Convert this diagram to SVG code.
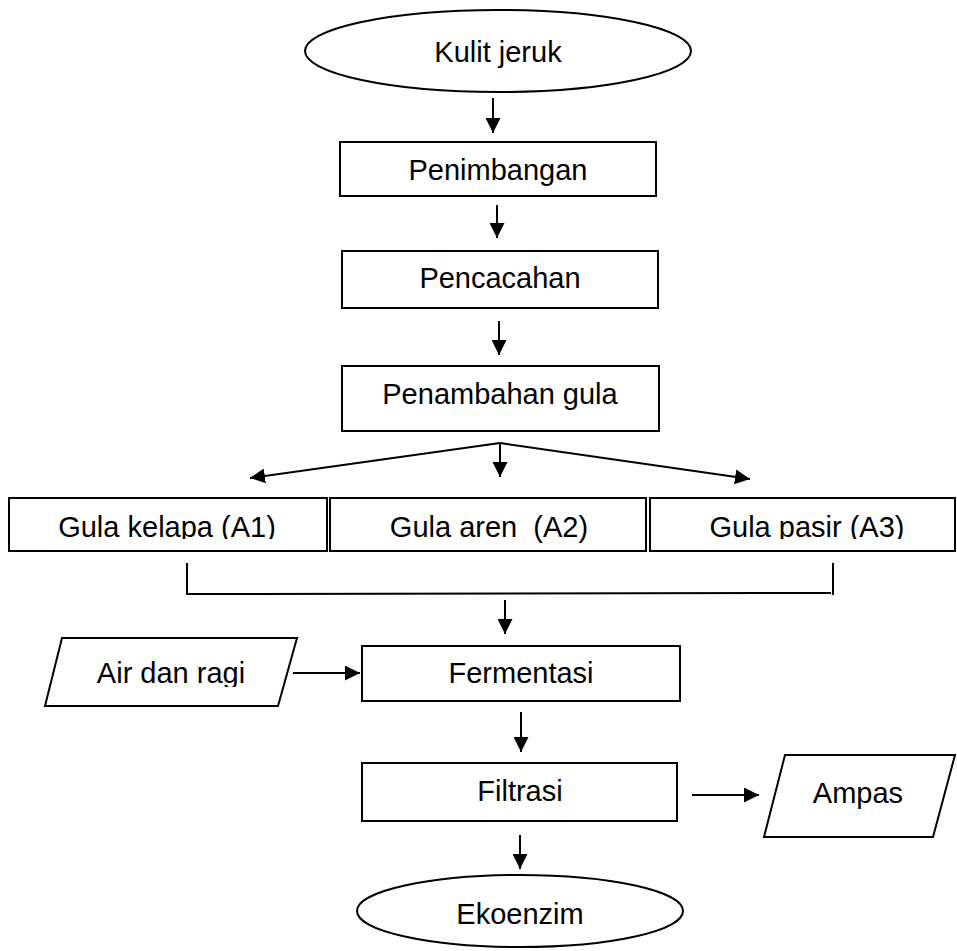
<svg xmlns="http://www.w3.org/2000/svg" width="957" height="951" viewBox="0 0 957 951">
<style>
.s{fill:#fff;stroke:#000;stroke-width:2}
.t{font-family:"Liberation Sans",Arial,sans-serif;font-size:29px;fill:#000;text-anchor:middle}
.c{fill:none;stroke:#000;stroke-width:2}
.a{fill:none;stroke:#000;stroke-width:2;marker-end:url(#ah)}
</style>
<defs>
<marker id="ah" viewBox="0 0 15 15" refX="15" refY="7.5" markerWidth="15" markerHeight="15" markerUnits="userSpaceOnUse" orient="auto">
<path d="M0,0 L15,7.5 L0,15 z" fill="#000"/>
</marker>
<clipPath id="clipAir"><rect x="40" y="630" width="260" height="57"/></clipPath>
<clipPath id="clipGula"><rect x="0" y="495" width="957" height="44"/></clipPath>
</defs>
<rect width="957" height="951" fill="#fff"/>
<g id="kulit"><ellipse class="s" cx="498" cy="51" rx="193" ry="41"/><text class="t" x="498" y="62">Kulit jeruk</text></g>
<g id="penimbangan"><rect class="s" x="340" y="142" width="316" height="54"/><text class="t" x="498" y="180">Penimbangan</text></g>
<g id="pencacahan"><rect class="s" x="342" y="251" width="316" height="57"/><text class="t" x="500" y="288">Pencacahan</text></g>
<g id="penambahan"><rect class="s" x="342" y="366" width="317" height="65"/><text class="t" x="500" y="404">Penambahan gula</text></g>
<g id="a1"><rect class="s" x="9" y="498" width="318" height="53"/><text class="t" x="167" y="537" clip-path="url(#clipGula)">Gula kelapa (A1)</text></g>
<g id="a2"><rect class="s" x="330" y="498" width="316" height="53"/><text class="t" x="489" y="537" xml:space="preserve" style="white-space:pre">Gula aren  (A2)</text></g>
<g id="a3"><rect class="s" x="650" y="498" width="305" height="53"/><text class="t" x="807" y="537" clip-path="url(#clipGula)">Gula pasir (A3)</text></g>
<g id="air"><polygon class="s" points="62,638 297,638 278,706 45,706"/><text class="t" x="171" y="683" clip-path="url(#clipAir)">Air dan ragi</text></g>
<g id="fermentasi"><rect class="s" x="362" y="646" width="318" height="55"/><text class="t" x="521" y="683">Fermentasi</text></g>
<g id="filtrasi"><rect class="s" x="362" y="763" width="315" height="58"/><text class="t" x="520" y="801">Filtrasi</text></g>
<g id="ampas"><polygon class="s" points="785,755 955,755 933,837 764,837"/><text class="t" x="858" y="803">Ampas</text></g>
<g id="ekoenzim"><ellipse class="s" cx="520" cy="911" rx="163" ry="36"/><text class="t" x="520" y="924">Ekoenzim</text></g>
<g id="connectors">
<line class="a" x1="493" y1="98" x2="493" y2="133"/>
<line class="a" x1="497" y1="205" x2="497" y2="238"/>
<line class="a" x1="499" y1="321" x2="499" y2="355"/>
<line class="a" x1="500" y1="443" x2="250" y2="478"/>
<line class="a" x1="500" y1="443" x2="500" y2="477"/>
<line class="a" x1="500" y1="443" x2="750" y2="479"/>
<polyline class="c" points="187,563 187,594 831,593"/>
<line class="c" x1="833" y1="563" x2="833" y2="595"/>
<line class="a" x1="505" y1="600" x2="505" y2="634"/>
<line class="a" x1="293" y1="673" x2="360" y2="673"/>
<line class="a" x1="521" y1="712" x2="521" y2="752"/>
<line class="a" x1="692" y1="795" x2="759" y2="795"/>
<line class="a" x1="520" y1="835" x2="520" y2="869"/>
</g>
</svg>
